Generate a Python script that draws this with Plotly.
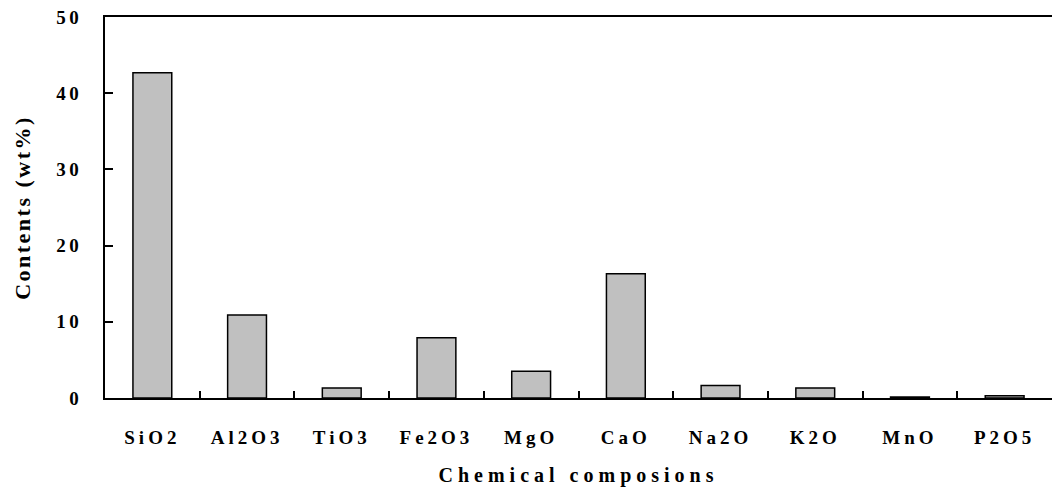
import plotly.graph_objects as go

categories = ["SiO2", "Al2O3", "TiO3", "Fe2O3", "MgO", "CaO", "Na2O", "K2O", "MnO", "P2O5"]
contents = [42.7, 10.9, 1.3, 7.9, 3.5, 16.3, 1.65, 1.3, 0.13, 0.3]
y_ticks = [0, 10, 20, 30, 40, 50]

FONT = "Liberation Serif"

def spaced(t, px):
    return f'<span style="letter-spacing:{px}px">{t}</span>'

fig = go.Figure()
fig.add_trace(go.Bar(
    x=categories, y=contents,
    marker=dict(color="#C0C0C0", line=dict(color="#000000", width=1.5)),
    width=0.41,
))

fig.update_layout(
    width=1052, height=496,
    margin=dict(l=105, r=0, t=17, b=98),
    plot_bgcolor="white", paper_bgcolor="white",
    showlegend=False,
    font=dict(family=FONT, color="black"),
    xaxis=dict(
        tickmode="array", tickvals=categories,
        ticktext=[f"<b>{spaced(c, 4)}</b>" for c in categories],
        tickfont=dict(size=19, family=FONT),
        ticks="inside", tickson="boundaries", ticklen=7, tickwidth=1.5, tickcolor="black",
        showline=True, linecolor="black", linewidth=2, mirror=True,
        showgrid=False, zeroline=False, automargin=False,
        ticklabelstandoff=21,
        title=dict(text=f"<b>{spaced('Chemical composions', 5)}</b>",
                   font=dict(size=20, family=FONT), standoff=21),
    ),
    yaxis=dict(
        range=[0, 50], tickmode="array", tickvals=y_ticks,
        ticktext=[f"<b>{spaced(v, 3.5)}</b>" for v in y_ticks],
        tickfont=dict(size=19, family=FONT),
        ticks="inside", ticklen=8, tickwidth=1.5, tickcolor="black",
        showline=True, linecolor="black", linewidth=2,
        showgrid=False, zeroline=False, automargin=False,
        ticklabelstandoff=17,
        title=dict(text=f"<b>{spaced('Contents (wt%)', 2.5)}</b>",
                   font=dict(size=22, family=FONT), standoff=20),
    ),
)

fig.write_html("out.html", config={"displayModeBar": False},
               post_script="document.body.style.margin='0';")
